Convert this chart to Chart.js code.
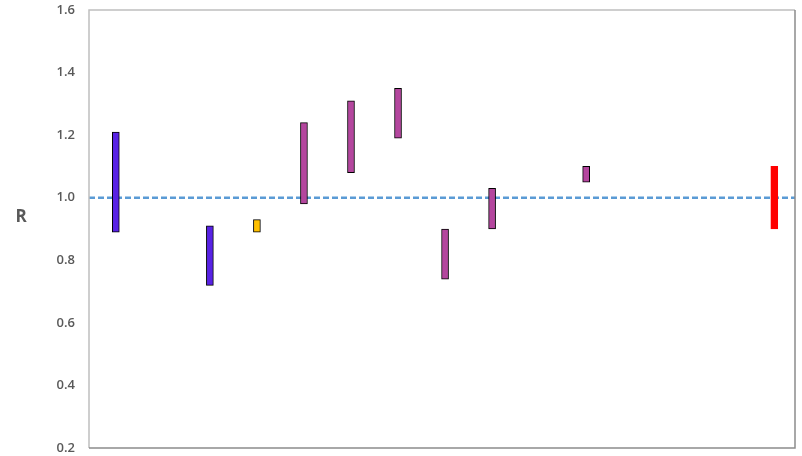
<!DOCTYPE html>
<html>
<head>
<meta charset="utf-8">
<script src="https://cdn.jsdelivr.net/npm/chart.js@4/dist/chart.umd.min.js"></script>
<style>
html,body{margin:0;padding:0;background:#fff;}
#wrap{width:802px;height:456px;position:relative;}
</style>
</head>
<body>
<div id="wrap"><canvas id="c"></canvas></div>
<script>
// Data
const xPositions = [1, 3, 4, 5, 6, 7, 8, 9, 11, 15];
const lows  = [0.89, 0.72, 0.89, 0.98, 1.08, 1.19, 0.74, 0.90, 1.05, 0.90];
const highs = [1.21, 0.91, 0.93, 1.24, 1.31, 1.35, 0.90, 1.03, 1.10, 1.10];
const barColors = ['#5822E4', '#5822E4', '#FFC000', '#B4469E', '#B4469E', '#B4469E', '#B4469E', '#B4469E', '#B4469E', '#FF0000'];
const barBorders = ['#000', '#000', '#000', '#000', '#000', '#000', '#000', '#000', '#000', '#FF0000'];
const referenceValue = 1.0;
const xMin = 0.43, xMax = 15.44;
const yMin = 0.2, yMax = 1.6, yStep = 0.2;
const yTitle = 'R';

const barData = xPositions.map((x, i) => ({x: x, y: [lows[i], highs[i]]}));
const refData = [{x: xMin, y: referenceValue}, {x: xMax, y: referenceValue}];

const framePlugin = {
  id: 'frame',
  afterDraw(chart) {
    const {ctx, chartArea: a} = chart;
    ctx.save();
    ctx.lineWidth = 1.5;
    ctx.strokeStyle = '#BFBFBF';
    ctx.beginPath();
    ctx.moveTo(a.left, a.bottom); ctx.lineTo(a.left, a.top); ctx.lineTo(a.right, a.top);
    ctx.stroke();
    ctx.strokeStyle = '#8C8C8C';
    ctx.beginPath();
    ctx.moveTo(a.left, a.bottom); ctx.lineTo(a.right, a.bottom); ctx.lineTo(a.right, a.top);
    ctx.stroke();
    // axis title, upright
    ctx.fillStyle = '#595959';
    ctx.font = 'bold 17px "Open Sans"';
    ctx.textAlign = 'center';
    ctx.textBaseline = 'middle';
    ctx.fillText(yTitle, 21, 217);
    ctx.restore();
  }
};

new Chart(document.getElementById('c'), {
  data: {
    datasets: [
      {
        type: 'line',
        data: refData,
        borderColor: '#5B9BD5',
        borderWidth: 2.4,
        borderDash: [6, 3],
        pointRadius: 0,
        fill: false,
        order: 2
      },
      {
        type: 'bar',
        data: barData,
        backgroundColor: barColors,
        borderColor: barBorders,
        borderWidth: 1,
        borderSkipped: false,
        barThickness: 7,
        grouped: false,
        order: 1
      }
    ]
  },
  options: {
    responsive: true,
    maintainAspectRatio: false,
    animation: false,
    layout: {padding: {top: 10, right: 7, bottom: 8, left: 0}},
    plugins: {legend: {display: false}, tooltip: {enabled: false}},
    scales: {
      x: {
        type: 'linear',
        min: xMin,
        max: xMax,
        offset: false,
        display: false
      },
      y: {
        type: 'linear',
        min: yMin,
        max: yMax,
        grid: {display: false, drawTicks: false},
        border: {display: false},
        ticks: {
          stepSize: yStep,
          padding: 14,
          color: '#595959',
          font: {family: 'Open Sans', size: 13, weight: '600'},
          callback: v => Number(v).toFixed(1)
        },
        afterFit(scale) { scale.width = 89; scale.paddingTop = 0; scale.paddingBottom = 0; }
      }
    }
  },
  plugins: [framePlugin]
});
</script>
</body>
</html>
